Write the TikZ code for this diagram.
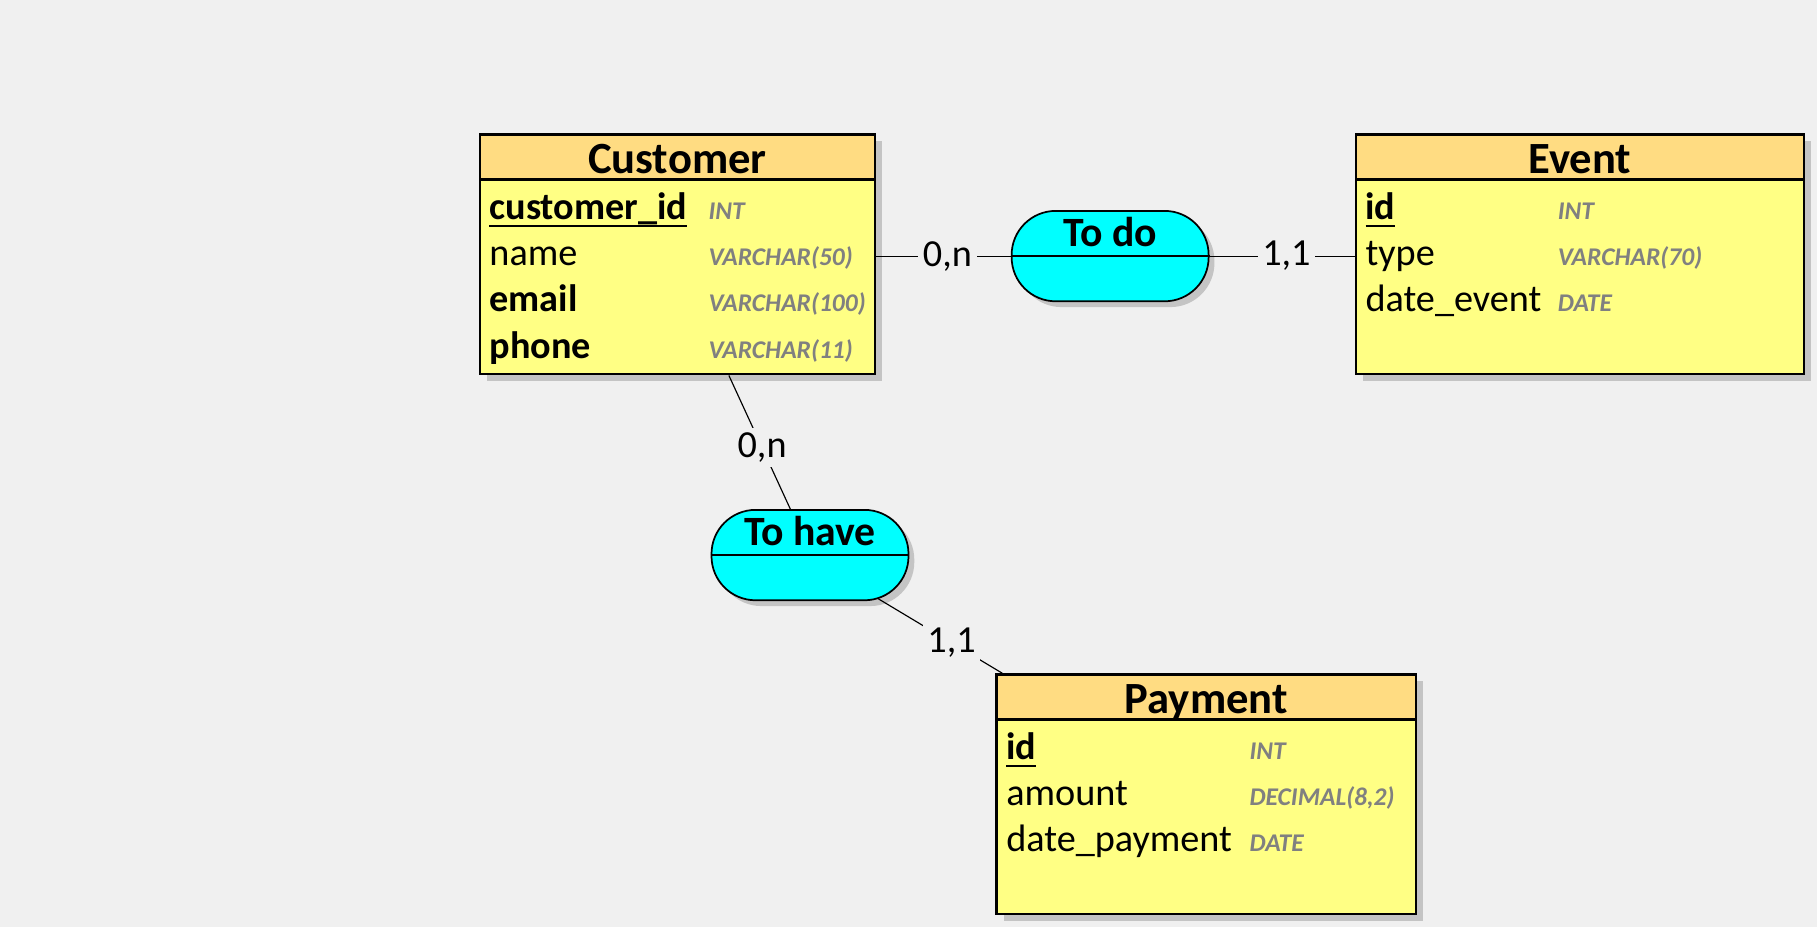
\documentclass[tikz,border=0pt]{standalone}
\usepackage{fontspec}
\setmainfont{Carlito}
\usetikzlibrary{shadows}
\tikzset{
  entity/.style={draw, line width=1pt, fill=bodycol, inner sep=0pt, minimum height=103.5pt,
    drop shadow={shadow xshift=3pt, shadow yshift=-3pt, fill=shadowcol, opacity=1}},
  head/.style={draw, line width=1pt, fill=headcol, inner sep=0pt, minimum height=19.5pt, anchor=north,
    text height=16pt, text depth=1.5pt, font=\fontsize{19.25}{20}\selectfont\bfseries},
  field/.style={anchor=base west, inner sep=0pt, font=\fontsize{16.5}{18}\selectfont},
  ftype/.style={anchor=base west, inner sep=0pt, text=typecol, font=\fontsize{11}{12}\selectfont\bfseries\itshape},
  rel/.style={draw, line width=0.75pt, fill=relcol, rounded corners=19pt, minimum width=85pt, minimum height=39pt,
    inner sep=0pt, drop shadow={shadow xshift=2.5pt, shadow yshift=-2.5pt, fill=shadowcol, opacity=1}},
  reltext/.style={anchor=base, inner sep=0pt, font=\fontsize{18}{20}\selectfont\bfseries},
  card/.style={fill=bgcol, inner sep=2pt, font=\fontsize{16.5}{18}\selectfont},
  link/.style={line width=0.5pt}
}
\newcommand{\pkey}[1]{\setbox0\hbox{#1}\rlap{\vrule height -2.5pt depth 3.5pt width \wd0}\box0}
\begin{document}
\begin{tikzpicture}[x=0.5pt, y=-0.5pt]
\definecolor{bgcol}{HTML}{F0F0F0}
\definecolor{bodycol}{HTML}{FFFF84}
\definecolor{headcol}{HTML}{FFDC82}
\definecolor{typecol}{HTML}{808080}
\definecolor{relcol}{HTML}{00FFFF}
\definecolor{shadowcol}{HTML}{C4C4C4}
\fill[bgcol] (0,0) rectangle (1568,800);
\useasboundingbox (0,0) rectangle (1568,800);
\node[entity, minimum width=170.5pt] (customer) at (584.5,219.5) {};
\node[head, minimum width=170.5pt] (customerh) at (customer.north) {Customer};
\node[field, font=\fontsize{16.5}{18}\selectfont\bfseries] (cid) at (422,189) {\pkey{customer\_id}};
\node[field] (cname) at (422,229) {name};
\node[field, font=\fontsize{16.5}{18}\selectfont\bfseries] (cemail) at (422,269) {email};
\node[field, font=\fontsize{16.5}{18}\selectfont\bfseries] (cphone) at (422,309) {phone};
\node[ftype] (cidt) at (611,189) {INT};
\node[ftype] (cnamet) at (611,229) {VARCHAR(50)};
\node[ftype] (cemailt) at (611,269) {VARCHAR(100)};
\node[ftype] (cphonet) at (611,309) {VARCHAR(11)};
\node[entity, minimum width=193.5pt] (event) at (1363.5,219.5) {};
\node[head, minimum width=193.5pt] (eventh) at (event.north) {Event};
\node[field, font=\fontsize{16.5}{18}\selectfont\bfseries] (eid) at (1178,189) {\pkey{id}};
\node[field] (etype) at (1178,229) {type};
\node[field] (edate) at (1178,269) {date\_event};
\node[ftype] (eidt) at (1344,189) {INT};
\node[ftype] (etypet) at (1344,229) {VARCHAR(70)};
\node[ftype] (edatet) at (1344,269) {DATE};
\node[entity, minimum width=181pt] (payment) at (1041,685.5) {};
\node[head, minimum width=181pt] (paymenth) at (payment.north) {Payment};
\node[field, font=\fontsize{16.5}{18}\selectfont\bfseries] (pid) at (868,655) {\pkey{id}};
\node[field] (pamount) at (868,695) {amount};
\node[field] (pdate) at (868,735) {date\_payment};
\node[ftype] (pidt) at (1078,655) {INT};
\node[ftype] (pamountt) at (1078,695) {DECIMAL(8,2)};
\node[ftype] (pdatet) at (1078,735) {DATE};
\node[rel] (todo) at (958,221) {};
\draw[line width=0.75pt] (todo.west) -- (todo.east);
\node[reltext] (todot) at ([yshift=4pt]todo.center) {To do};
\node[rel] (tohave) at (699,479) {};
\draw[line width=0.75pt] (tohave.west) -- (tohave.east);
\node[reltext] (tohavet) at ([yshift=4pt]tohave.center) {To have};
\draw[link] (todo.west -| customer.east) -- (todo.west) node[card, pos=0.53] {0,n};
\draw[link] (todo.east) -- (todo.east -| event.west) node[card, pos=0.53] {1,1};
\draw[link] ([xshift=22.25pt]customer.south) -- ([xshift=-8.5pt]tohave.north) node[card, pos=0.54] {0,n};
\draw[link] ([xshift=29.5pt, yshift=1pt]tohave.south) -- ([xshift=3pt]payment.north west) node[card, pos=0.59] {1,1};
\end{tikzpicture}
\end{document}
